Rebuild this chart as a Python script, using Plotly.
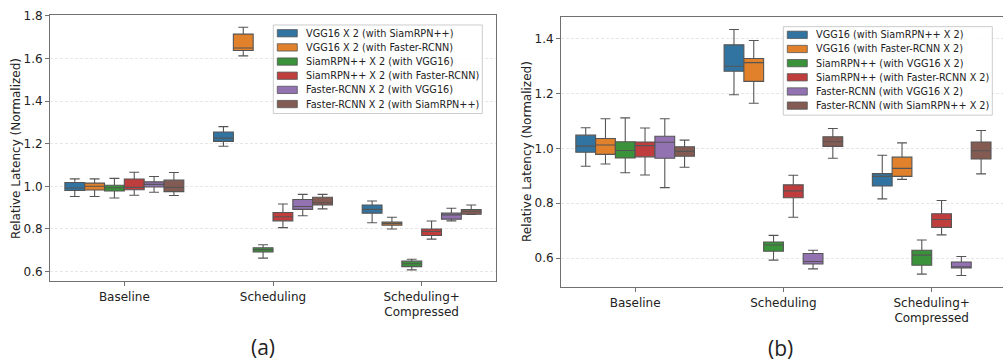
import plotly.graph_objects as go

W, H = 1003, 363

categories = ["Baseline", "Scheduling", "Scheduling+Compressed"]
tick_labels = ["Baseline", "Scheduling", "Scheduling+<br>Compressed"]

colors = ["#3274a1", "#e1812c", "#3a923a", "#c03d3e", "#9372b2", "#845b53"]

# ---------------- (a) ----------------
names_a = ["VGG16 X 2 (with SiamRPN++)", "VGG16 X 2 (with Faster-RCNN)",
           "SiamRPN++ X 2 (with VGG16)", "SiamRPN++ X 2 (with Faster-RCNN)",
           "Faster-RCNN X 2 (with VGG16)", "Faster-RCNN X 2 (with SiamRPN++)"]
# per series: values for [Baseline, Scheduling, Scheduling+Compressed]
a_low = [[0.952, 1.188, 0.829], [0.952, 1.612, 0.800], [0.945, 0.663, 0.608],
         [0.958, 0.806, 0.752], [0.972, 0.862, 0.838], [0.957, 0.894, 0.868]]
a_q1 = [[0.980, 1.211, 0.874], [0.983, 1.637, 0.817], [0.978, 0.692, 0.623],
        [0.984, 0.838, 0.769], [0.997, 0.892, 0.846], [0.975, 0.912, 0.869]]
a_med = [[0.992, 1.226, 0.892], [1.000, 1.649, 0.825], [0.993, 0.703, 0.637],
         [0.995, 0.857, 0.788], [1.009, 0.905, 0.866], [0.995, 0.923, 0.883]]
a_q3 = [[1.018, 1.255, 0.912], [1.015, 1.714, 0.832], [1.005, 0.712, 0.649],
        [1.034, 0.877, 0.800], [1.021, 0.938, 0.874], [1.029, 0.949, 0.891]]
a_high = [[1.035, 1.280, 0.931], [1.035, 1.746, 0.855], [1.037, 0.726, 0.658],
          [1.066, 0.917, 0.837], [1.046, 0.962, 0.897], [1.065, 0.962, 0.912]]

# ---------------- (b) ----------------
names_b = ["VGG16 (with SiamRPN++ X 2)", "VGG16 (with Faster-RCNN X 2)",
           "SiamRPN++ (with VGG16 X 2)", "SiamRPN++ (with Faster-RCNN X 2)",
           "Faster-RCNN (with VGG16 X 2)", "Faster-RCNN (with SiamRPN++ X 2)"]
b_low = [[0.935, 1.195, 0.816], [0.943, 1.164, 0.887], [0.911, 0.593, 0.542],
         [0.903, 0.749, 0.685], [0.857, 0.561, 0.537], [0.931, 0.964, 0.907]]
b_q1 = [[0.986, 1.281, 0.863], [0.978, 1.244, 0.898], [0.965, 0.625, 0.574],
        [0.969, 0.820, 0.712], [0.964, 0.579, 0.564], [0.971, 1.007, 0.961]]
b_med = [[1.008, 1.299, 0.898], [1.012, 1.312, 0.927], [0.992, 0.648, 0.611],
         [1.010, 0.845, 0.741], [1.022, 0.588, 0.569], [0.989, 1.024, 0.991]]
b_q3 = [[1.048, 1.377, 0.908], [1.036, 1.327, 0.968], [1.024, 0.659, 0.629],
        [1.023, 0.867, 0.762], [1.044, 0.617, 0.586], [1.006, 1.042, 1.023]]
b_high = [[1.075, 1.433, 0.975], [1.108, 1.393, 1.020], [1.111, 0.683, 0.666],
          [1.074, 0.902, 0.810], [1.108, 0.629, 0.606], [1.030, 1.072, 1.065]]

LINE = "#555555"
FONT = "DejaVu Sans"


def px(x):
    return x / W


def py(y):
    return 1 - y / H


fig = go.Figure()

for i in range(6):
    fig.add_trace(go.Box(
        x=categories, q1=a_q1[i], median=a_med[i], q3=a_q3[i],
        lowerfence=a_low[i], upperfence=a_high[i],
        name=names_a[i], offsetgroup=str(i), fillcolor=colors[i],
        line=dict(color=LINE, width=1.1), whiskerwidth=0.5,
        boxpoints=False, showlegend=False, xaxis="x", yaxis="y"))
for i in range(6):
    fig.add_trace(go.Box(
        x=categories, q1=b_q1[i], median=b_med[i], q3=b_q3[i],
        lowerfence=b_low[i], upperfence=b_high[i],
        name=names_b[i], offsetgroup=str(i), fillcolor=colors[i],
        line=dict(color=LINE, width=1.1), whiskerwidth=0.5,
        boxpoints=False, showlegend=False, xaxis="x2", yaxis="y2"))

axis_common = dict(showline=True, linecolor="#707070", linewidth=1,
                   ticks="outside", ticklen=4, tickcolor="#707070",
                   tickfont=dict(family=FONT, size=12, color="#222222"))
grid_common = dict(showgrid=True, gridcolor="#e6e6e6", griddash="3px,2px",
                   gridwidth=0.8, zeroline=False)

fig.update_layout(
    width=W, height=H, margin=dict(l=0, r=0, t=0, b=0),
    paper_bgcolor="white", plot_bgcolor="white",
    boxmode="group", boxgap=0.2, boxgroupgap=0,
    font=dict(family=FONT, size=12, color="#222222"),
    xaxis=dict(domain=[px(50), px(496)], range=[-0.5, 2.5], type="category",
               tickvals=categories, ticktext=tick_labels, mirror=True,
               showgrid=False, anchor="y", **axis_common),
    yaxis=dict(domain=[py(280), py(9.3)], range=[0.554, 1.803],
               tickvals=[0.6, 0.8, 1.0, 1.2, 1.4, 1.6, 1.8], tickformat=".1f",
               mirror=True, anchor="x", **grid_common, **axis_common),
    xaxis2=dict(domain=[px(561), 1.0], range=[-0.5, 2.481], type="category",
                tickvals=categories, ticktext=tick_labels, mirror=True,
                showgrid=False, anchor="y2", **axis_common),
    yaxis2=dict(domain=[py(286), py(11)], range=[0.494, 1.479],
                tickvals=[0.6, 0.8, 1.0, 1.2, 1.4], tickformat=".1f",
                mirror=False, anchor="x2", **grid_common, **axis_common),
)

annotations = []
shapes = []

# y-axis titles
annotations.append(dict(text="Relative Latency (Normalized)", textangle=-90,
                        x=px(16.7), y=py(144.6), xref="paper", yref="paper",
                        showarrow=False, xanchor="center", yanchor="middle",
                        font=dict(family=FONT, size=12, color="#222222")))
annotations.append(dict(text="Relative Latency (Normalized)", textangle=-90,
                        x=px(527), y=py(148.5), xref="paper", yref="paper",
                        showarrow=False, xanchor="center", yanchor="middle",
                        font=dict(family=FONT, size=12, color="#222222")))

# captions
annotations.append(dict(text="(a)", x=px(262.7), y=py(347), xref="paper", yref="paper",
                        showarrow=False, xanchor="center", yanchor="middle",
                        font=dict(family="Open Sans", size=21, color="#222222")))
annotations.append(dict(text="(b)", x=px(780.3), y=py(347.5), xref="paper", yref="paper",
                        showarrow=False, xanchor="center", yanchor="middle",
                        font=dict(family="Open Sans", size=21, color="#222222")))


def add_legend(x0, y0, x1, y1, row0, names):
    shapes.append(dict(type="rect", xref="paper", yref="paper",
                       x0=px(x0), x1=px(x1), y0=py(y1), y1=py(y0),
                       line=dict(color="#cccccc", width=1), fillcolor="rgba(255,255,255,0.85)",
                       layer="above"))
    for i, nm in enumerate(names):
        yc = row0 + 14.4 * i
        shapes.append(dict(type="rect", xref="paper", yref="paper",
                           x0=px(x0 + 4), x1=px(x0 + 24), y0=py(yc + 3.7), y1=py(yc - 3.7),
                           line=dict(color=LINE, width=0.8), fillcolor=colors[i],
                           layer="above"))
        annotations.append(dict(text=nm, x=px(x0 + 30.5), y=py(yc), xref="paper", yref="paper",
                                showarrow=False, xanchor="left", yanchor="middle",
                                font=dict(family=FONT, size=9.7, color="#222222")))


add_legend(273.3, 19.3, 482.3, 109.3, 27.7, names_a)
add_legend(783.3, 21, 992.3, 111, 29.3, names_b)

fig.update_layout(annotations=annotations, shapes=shapes)

fig.write_html("out.html", config={"displayModeBar": False},
               post_script="document.body.style.margin='0';document.body.style.overflow='hidden';")
